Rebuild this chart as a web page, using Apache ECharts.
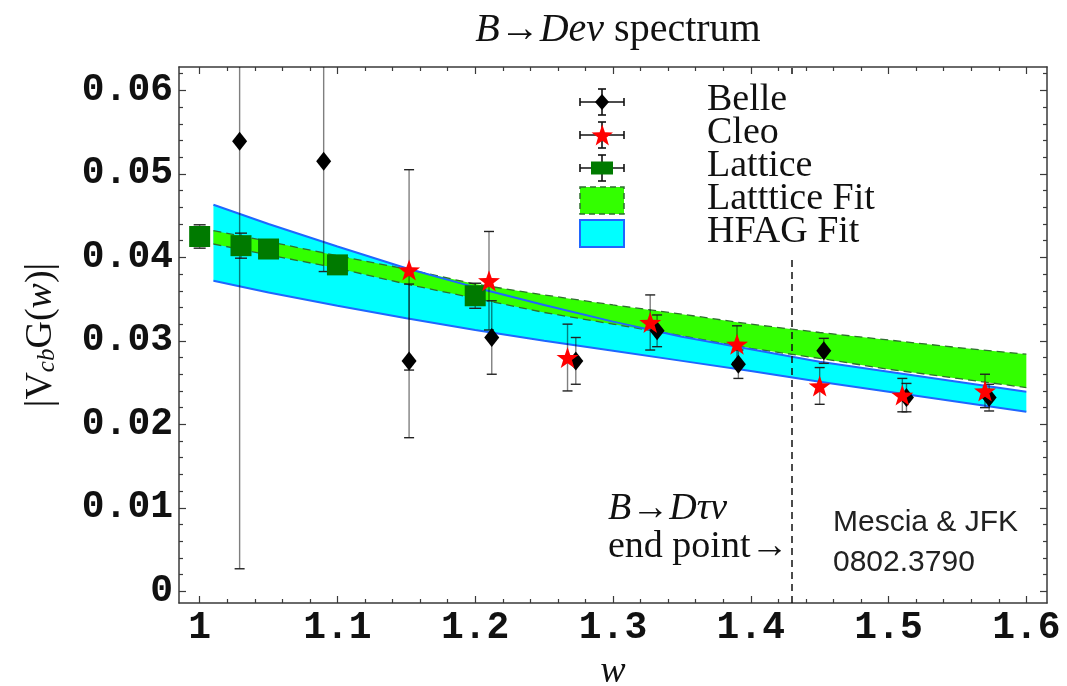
<!DOCTYPE html>
<html><head><meta charset="utf-8">
<script src="https://cdn.jsdelivr.net/npm/echarts@6/dist/echarts.min.js"></script>
<style>html,body{margin:0;padding:0;background:#fff}#c{width:1067px;height:686px}</style>
</head><body><div id="c"></div>
<script>
// ---- tick labels ----
const xTicks = [1.0, 1.1, 1.2, 1.3, 1.4, 1.5, 1.6];
const xMinorTicks = [1.02,1.04,1.06,1.08,1.12,1.14,1.16,1.18,1.22,1.24,1.26,1.28,1.32,1.34,1.36,1.38,1.42,1.44,1.46,1.48,1.52,1.54,1.56,1.58];
const yTicks = [0, 0.01, 0.02, 0.03, 0.04, 0.05, 0.06];
const yMinorTicks = [0.002,0.004,0.006,0.008,0.012,0.014,0.016,0.018,0.022,0.024,0.026,0.028,0.032,0.034,0.036,0.038,0.042,0.044,0.046,0.048,0.052,0.054,0.056,0.058,0.062];

// ---- data ----
const belleX   = [1.029, 1.090, 1.152, 1.212, 1.273, 1.332, 1.391, 1.453, 1.513, 1.573];
const belleY   = [0.0539, 0.0515, 0.0276, 0.0304, 0.0276, 0.0312, 0.0272, 0.0288, 0.0232, 0.0232];
const belleErr = [0.0512, 0.0132, 0.0092, 0.0044, 0.0028, 0.0019, 0.0017, 0.0015, 0.0017, 0.0016];

const cleoX   = [1.152, 1.210, 1.267, 1.327, 1.390, 1.450, 1.510, 1.570];
const cleoY   = [0.0385, 0.0372, 0.0280, 0.0322, 0.0296, 0.0246, 0.0235, 0.0240];
const cleoErr = [0.0120, 0.0059, 0.0040, 0.0033, 0.0022, 0.0022, 0.0020, 0.0020];

const latX   = [1.00, 1.03, 1.05, 1.10, 1.20];
const latY   = [0.0425, 0.0414, 0.0410, 0.0391, 0.0354];
const latErr = [0.0014, 0.0015, 0.0011, 0.0010, 0.0015];

const fitX      = [1.01, 1.05, 1.10, 1.15, 1.20, 1.25, 1.30, 1.35, 1.40, 1.45, 1.50, 1.55, 1.60];
const hfagUpper = [0.0463, 0.0440, 0.0413, 0.0387, 0.0364, 0.0343, 0.0323, 0.0305, 0.0290, 0.0275, 0.0263, 0.0251, 0.0239];
const hfagLower = [0.0372, 0.0358, 0.0342, 0.0327, 0.0313, 0.0300, 0.0288, 0.0276, 0.0264, 0.0251, 0.0239, 0.0227, 0.0215];
const latUpper  = [0.0432, 0.0419, 0.0402, 0.0386, 0.0368, 0.0355, 0.0343, 0.0332, 0.0320, 0.0310, 0.0301, 0.0292, 0.0284];
const latLower  = [0.0416, 0.0403, 0.0387, 0.0368, 0.0351, 0.0334, 0.0320, 0.0306, 0.0291, 0.0279, 0.0266, 0.0255, 0.0244];

const endPointX = 1.429;

// ---- styles ----
const FRAME = '#3a3a3a';
const GREEN_FILL = '#33ff00';
const GREEN_EDGE = '#2f6f2f';
const CYAN = '#00ffff';
const BLUE = '#1f66ff';
const LAT_GREEN = '#007a00';
const STAR = 'path://M50 0 L61.76 33.82 L97.55 34.55 L69.02 56.18 L79.39 90.45 L50 70 L20.61 90.45 L30.98 56.18 L2.45 34.55 L38.24 33.82 Z';
const STAR_PTS = [[50,0],[61.76,33.82],[97.55,34.55],[69.02,56.18],[79.39,90.45],[50,70],[20.61,90.45],[30.98,56.18],[2.45,34.55],[38.24,33.82]];
const SERIF = "'Liberation Serif', 'Times New Roman', serif";
const MONO = "'Liberation Mono', 'Courier New', monospace";
const SANS = "'Liberation Sans', Arial, sans-serif";

const X_MIN = 0.985, X_MAX = 1.615, Y_MIN = -0.0014, Y_MAX = 0.0628;

function xAx(pos, major, showLabel) {
  return {
    type: 'value', min: X_MIN, max: X_MAX, position: pos,
    axisLine: { show: major, onZero: false, lineStyle: { color: FRAME, width: 1.5 } },
    splitLine: { show: false },
    axisTick: { show: true, inside: true, length: major ? 7 : 4, customValues: major ? xTicks : xMinorTicks,
      lineStyle: { color: FRAME, width: 1.2 } },
    axisLabel: { show: showLabel, customValues: xTicks, margin: 6,
      formatter: v => (Math.abs(v - 1) < 1e-9 ? '1' : v.toFixed(1)),
      fontFamily: MONO, fontWeight: 'bold', fontSize: 38, color: '#111' }
  };
}
function yAx(pos, major, showLabel) {
  return {
    type: 'value', min: Y_MIN, max: Y_MAX, position: pos,
    axisLine: { show: major, onZero: false, lineStyle: { color: FRAME, width: 1.5 } },
    splitLine: { show: false },
    axisTick: { show: true, inside: true, length: major ? 7 : 4, customValues: major ? yTicks : yMinorTicks,
      lineStyle: { color: FRAME, width: 1.2 } },
    axisLabel: { show: showLabel, customValues: yTicks, margin: 6,
      formatter: v => (Math.abs(v) < 1e-12 ? '0' : v.toFixed(2)),
      fontFamily: MONO, fontWeight: 'bold', fontSize: 38, color: '#111' }
  };
}

function bandFill(name, upper, lower, color, z) {
  return {
    type: 'custom', name, z, silent: true, clip: true,
    data: fitX.map((x, i) => [x, lower[i], upper[i]]),
    encode: { x: 0, y: [1, 2] },
    renderItem: (params, api) => {
      if (params.dataIndex !== 0) return { type: 'group', children: [] };
      const p = [];
      for (let i = 0; i < fitX.length; i++) p.push(api.coord([fitX[i], upper[i]]));
      for (let i = fitX.length - 1; i >= 0; i--) p.push(api.coord([fitX[i], lower[i]]));
      return { type: 'polygon', shape: { points: p }, style: { fill: color } };
    }
  };
}
function edge(name, ys, color, width, dashed, z) {
  return {
    type: 'line', name, z, silent: true, symbol: 'none', smooth: false,
    data: fitX.map((x, i) => [x, ys[i]]),
    lineStyle: { color, width, type: dashed ? [8, 5] : 'solid' }
  };
}
function errBars(name, xs, ys, errs, cap, z) {
  return {
    type: 'custom', name, z, silent: true, clip: true,
    data: xs.map((x, i) => [x, ys[i] - errs[i], ys[i] + errs[i]]),
    encode: { x: 0, y: [1, 2] },
    renderItem: (params, api) => {
      const x = api.value(0);
      const lo = api.coord([x, api.value(1)]);
      const hi = api.coord([x, api.value(2)]);
      return { type: 'group', children: [
        { type: 'line', shape: { x1: lo[0], y1: lo[1], x2: hi[0], y2: hi[1] }, style: { stroke: 'rgba(0,0,0,0.5)', lineWidth: 1.4 } },
        { type: 'line', shape: { x1: lo[0] - cap, y1: lo[1], x2: lo[0] + cap, y2: lo[1] }, style: { stroke: '#222', lineWidth: 1.4 } },
        { type: 'line', shape: { x1: hi[0] - cap, y1: hi[1], x2: hi[0] + cap, y2: hi[1] }, style: { stroke: '#222', lineWidth: 1.4 } }
      ] };
    }
  };
}
function pts(name, xs, ys, symbol, size, color, z) {
  return { type: 'scatter', name, z, symbol, symbolSize: size, silent: true,
    itemStyle: { color, opacity: 1 }, data: xs.map((x, i) => [x, ys[i]]) };
}

// legend (drawn with graphic)
function legendIcon(cx, cy, marker) {
  const c = '#111';
  const items = [
    { type: 'line', shape: { x1: cx - 22, y1: cy, x2: cx + 22, y2: cy }, style: { stroke: c, lineWidth: 1.6 } },
    { type: 'line', shape: { x1: cx - 22, y1: cy - 4, x2: cx - 22, y2: cy + 4 }, style: { stroke: c, lineWidth: 1.6 } },
    { type: 'line', shape: { x1: cx + 22, y1: cy - 4, x2: cx + 22, y2: cy + 4 }, style: { stroke: c, lineWidth: 1.6 } },
    { type: 'line', shape: { x1: cx, y1: cy - 13, x2: cx, y2: cy + 13 }, style: { stroke: c, lineWidth: 1.6 } },
    { type: 'line', shape: { x1: cx - 4, y1: cy - 13, x2: cx + 4, y2: cy - 13 }, style: { stroke: c, lineWidth: 1.6 } },
    { type: 'line', shape: { x1: cx - 4, y1: cy + 13, x2: cx + 4, y2: cy + 13 }, style: { stroke: c, lineWidth: 1.6 } },
    marker
  ];
  return items.map(e => Object.assign(e, { z: 101 }));
}
const LX = 602;
const starPoly = (cx, cy, w, h) => STAR_PTS.map(p => [cx - w / 2 + p[0] / 97.55 * w, cy - h / 2 + p[1] / 90.45 * h]);
const legendGraphics = [
  { type: 'rect', shape: { x: 572, y: 74, width: 322, height: 182 }, style: { fill: '#fff' }, z: 100 },
  ...legendIcon(LX, 102, { type: 'polygon', shape: { points: [[LX, 94], [LX + 7, 102], [LX, 110], [LX - 7, 102]] }, style: { fill: '#000' } }),
  ...legendIcon(LX, 135, { type: 'polygon', shape: { points: starPoly(LX, 135, 22, 21) }, style: { fill: '#ff0000' } }),
  ...legendIcon(LX, 168, { type: 'rect', shape: { x: LX - 11, y: 161.5, width: 22, height: 13 }, style: { fill: LAT_GREEN } }),
  { type: 'rect', z: 101, shape: { x: 580, y: 187, width: 44, height: 27 }, style: { fill: GREEN_FILL, stroke: GREEN_EDGE, lineWidth: 1.5, lineDash: [6, 4] } },
  { type: 'rect', z: 101, shape: { x: 580, y: 220, width: 44, height: 27 }, style: { fill: CYAN, stroke: BLUE, lineWidth: 2 } }
];
const legendNames = ['Belle', 'Cleo', 'Lattice', 'Latttice Fit', 'HFAG Fit'];
legendNames.forEach((t, i) => {
  legendGraphics.push({ type: 'text', z: 102, x: 707, y: 100 + 33 * i,
    style: { text: t, font: '38px ' + SERIF, fill: '#111', verticalAlign: 'middle', align: 'left' } });
});

const annotations = [
  { type: 'text', z: 102, x: 608, y: 509, style: { text: 'B→Dτν', font: 'italic 38px ' + SERIF, fill: '#111', verticalAlign: 'middle' } },
  { type: 'text', z: 102, x: 608, y: 547, style: { text: 'end point→', font: '38px ' + SERIF, fill: '#111', verticalAlign: 'middle' } },
  { type: 'text', z: 102, x: 833, y: 523, style: { text: 'Mescia & JFK', font: '30px ' + SANS, fill: '#222', verticalAlign: 'middle' } },
  { type: 'text', z: 102, x: 833, y: 563, style: { text: '0802.3790', font: '30px ' + SANS, fill: '#222', verticalAlign: 'middle' } }
];

const chart = echarts.init(document.getElementById('c'), null, { renderer: 'canvas' });
const yMain = yAx('left', true, true);
Object.assign(yMain, {
  name: '{n||}{n|V}{s|cb}{n|G(}{i|w}{n|)|}',
  nameLocation: 'middle', nameRotate: 90, nameGap: 119,
  nameTextStyle: { fontFamily: SERIF, fontSize: 38, color: '#111',
    rich: {
      n: { fontFamily: SERIF, fontSize: 38, lineHeight: 42, verticalAlign: 'bottom', color: '#111' },
      i: { fontFamily: SERIF, fontSize: 38, fontStyle: 'italic', lineHeight: 42, verticalAlign: 'bottom', color: '#111' },
      s: { fontFamily: SERIF, fontSize: 25, fontStyle: 'italic', lineHeight: 19, verticalAlign: 'bottom', color: '#111' }
    } }
});
const xMain = xAx('bottom', true, true);
Object.assign(xMain, {
  name: 'w', nameLocation: 'middle', nameGap: 50,
  nameTextStyle: { fontFamily: SERIF, fontSize: 38, fontStyle: 'italic', color: '#111' }
});

chart.setOption({
  animation: false,
  backgroundColor: '#fff',
  title: {
    text: '{i|B→Deν}  {n|spectrum}', left: 613, top: 5, textAlign: 'center',
    textStyle: { fontWeight: 'normal', rich: {
      i: { fontFamily: SERIF, fontSize: 40, fontStyle: 'italic', fontWeight: 'normal', color: '#111' },
      n: { fontFamily: SERIF, fontSize: 40, fontWeight: 'normal', color: '#111' }
    } }
  },
  grid: { left: 179, right: 20, top: 67, bottom: 83, containLabel: false, outerBoundsMode: 'none' },
  xAxis: [xMain, xAx('bottom', false, false), xAx('top', true, false), xAx('top', false, false)],
  yAxis: [yMain, yAx('left', false, false), yAx('right', true, false), yAx('right', false, false)],
  graphic: [...legendGraphics, ...annotations],
  series: [
    bandFill('HFAG Fit', hfagUpper, hfagLower, CYAN, 1),
    bandFill('Latttice Fit', latUpper, latLower, GREEN_FILL, 2),
    edge('Lattice Fit upper', latUpper, GREEN_EDGE, 1.3, true, 3),
    edge('Lattice Fit lower', latLower, GREEN_EDGE, 1.3, true, 3),
    edge('HFAG upper', hfagUpper, BLUE, 2, false, 4),
    edge('HFAG lower', hfagLower, BLUE, 2, false, 4),
    {
      type: 'line', name: 'end point', data: [], z: 5, silent: true,
      markLine: { silent: true, symbol: 'none', label: { show: false },
        lineStyle: { color: '#111', width: 1.5, type: [7, 5] },
        data: [{ xAxis: endPointX }] }
    },
    errBars('Lattice err', latX, latY, latErr, 6, 6),
    errBars('Belle err', belleX, belleY, belleErr, 5, 6),
    errBars('Cleo err', cleoX, cleoY, cleoErr, 5, 6),
    pts('Lattice', latX, latY, 'rect', [21, 21], LAT_GREEN, 7),
    pts('Belle', belleX, belleY, 'diamond', [15, 19], '#000', 8),
    pts('Cleo', cleoX, cleoY, STAR, [22, 21], '#ff0000', 9)
  ]
});
</script></body></html>
